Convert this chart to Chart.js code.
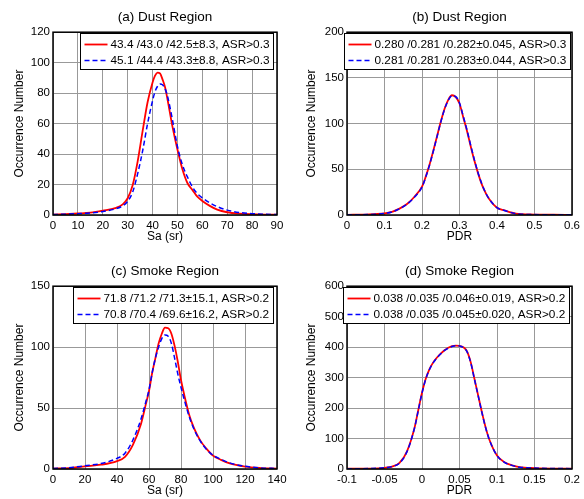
<!DOCTYPE html>
<html>
<head>
<meta charset="utf-8">
<title>Sa / PDR occurrence</title>
<script src="https://cdn.jsdelivr.net/npm/chart.js"></script>
<style>
  body { margin: 0; background: #fff; overflow: hidden; width: 584px; height: 499px; position: relative; }
  canvas { position: absolute; }
</style>
</head>
<body>
<canvas id="dustSa" width="292" height="250" style="left:0;top:0"></canvas>
<canvas id="dustPdr" width="292" height="250" style="left:292px;top:0"></canvas>
<canvas id="smokeSa" width="292" height="250" style="left:0;top:254px"></canvas>
<canvas id="smokePdr" width="292" height="250" style="left:292px;top:254px"></canvas>

<script>
// (a) Dust region, lidar ratio
const dustSaX    = [0, 5, 10, 15, 20, 25, 28, 30, 32, 34, 36, 38, 40, 41, 42, 43, 44, 45, 46, 48, 50, 52, 54, 56, 58, 60, 63, 66, 70, 75, 80, 85, 90];
const dustSaRed  = [0.3, 0.6, 1.0, 1.5, 2.8, 4.5, 7, 11, 19.5, 35, 55, 74, 87, 91.5, 93.5, 93, 89, 84, 76, 58, 43, 30, 21, 16.5, 12, 9.2, 6, 3.5, 1.8, 0.9, 0.5, 0.3, 0.2];
const dustSaBlue = [0.3, 0.5, 0.9, 1.4, 2.3, 4, 6, 9, 15, 27, 42, 60, 75, 81, 84.5, 86, 85.5, 83, 78, 62.5, 45, 33, 25, 18.5, 14, 11.3, 8, 5.5, 3.2, 1.6, 0.9, 0.5, 0.3];
const dustSaTicksX = [0, 10, 20, 30, 40, 50, 60, 70, 80, 90];
const dustSaTicksY = [0, 20, 40, 60, 80, 100, 120];

// (b) Dust region, depolarization ratio
const dustPdrX    = [0, 0.05, 0.1, 0.12, 0.14, 0.16, 0.18, 0.2, 0.21, 0.22, 0.23, 0.24, 0.25, 0.26, 0.27, 0.28, 0.29, 0.3, 0.31, 0.32, 0.33, 0.34, 0.35, 0.36, 0.37, 0.38, 0.4, 0.42, 0.45, 0.5, 0.55, 0.6];
const dustPdrRed  = [0.2, 0.5, 1.8, 3.5, 7, 12, 20, 31, 42, 55, 70, 86, 102, 116, 126, 131, 129, 122, 107, 92, 75, 59, 45, 33, 24, 17, 8, 5, 1.5, 0.5, 0.3, 0.2];
const dustPdrBlue = [0.2, 0.5, 1.7, 3.4, 6.8, 11.8, 19.6, 30.5, 41.5, 54.5, 69.5, 85.5, 101.5, 115.5, 125.5, 130.5, 129.5, 122.5, 108, 93, 76, 60, 45.5, 33.5, 24, 17, 8, 5, 1.5, 0.5, 0.3, 0.2];
const dustPdrTicksX = [0, 0.1, 0.2, 0.3, 0.4, 0.5, 0.6];
const dustPdrTicksY = [0, 50, 100, 150, 200];

// (c) Smoke region, lidar ratio
const smokeSaX    = [0, 10, 20, 30, 40, 45, 50, 55, 58, 60, 62, 64, 66, 68, 70, 72, 74, 76, 78, 80, 82, 85, 88, 92, 96, 100, 105, 110, 120, 130, 140];
const smokeSaRed  = [0.3, 0.8, 2.2, 3.5, 6.5, 10, 20, 37, 53, 64, 79, 91, 103, 111, 116, 115.5, 111, 101, 88, 73, 61, 45, 34, 23.5, 16.5, 11, 7.5, 4.8, 2, 0.8, 0.3];
const smokeSaBlue = [0.5, 1, 2.7, 4.5, 8.7, 13, 24, 41, 55, 65, 79, 91, 100, 107, 110, 109, 103, 91, 78, 67, 57, 43.5, 33, 23, 16, 11.3, 8, 5.2, 2.2, 0.9, 0.4];
const smokeSaTicksX = [0, 20, 40, 60, 80, 100, 120, 140];
const smokeSaTicksY = [0, 50, 100, 150];

// (d) Smoke region, depolarization ratio
const smokePdrX    = [-0.1, -0.07, -0.05, -0.04, -0.03, -0.02, -0.01, -0.005, 0, 0.005, 0.01, 0.015, 0.02, 0.025, 0.03, 0.04, 0.045, 0.05, 0.055, 0.06, 0.065, 0.07, 0.075, 0.08, 0.085, 0.09, 0.1, 0.11, 0.12, 0.13, 0.15, 0.2];
const smokePdrRed  = [1, 1.5, 4, 8, 20, 58, 135, 193, 250, 296, 328, 350, 366, 379, 390, 403, 405, 404, 400, 386, 350, 295, 240, 185, 135, 95, 44, 22, 12, 6, 3, 1];
const smokePdrBlue = [1, 1.5, 4, 8, 19, 57, 134, 192, 249, 295, 327, 349, 365, 378, 389, 402, 404.5, 404, 399, 385, 349, 294, 239, 184, 134, 95, 44, 22, 12, 6, 3, 1];
const smokePdrTicksX = [-0.1, -0.05, 0, 0.05, 0.1, 0.15, 0.2];
const smokePdrTicksY = [0, 100, 200, 300, 400, 500, 600];

const FONT = '"Liberation Sans", Arial, Helvetica, sans-serif';
Chart.defaults.font.family = FONT;
Chart.defaults.color = '#000';

// matlab-ish frame + boxed legend inside the axes
const framePlugin = {
  id: 'frame',
  afterDraw(chart) {
    const {ctx, chartArea: a} = chart;
    const inset = chart.options.plugins.frame.inset;
    ctx.save();
    ctx.strokeStyle = '#000';
    ctx.lineWidth = 1.5;
    ctx.strokeRect(a.left, a.top, a.right - a.left, a.bottom - a.top);

    ctx.lineWidth = 1;
    ctx.font = '11.8px ' + FONT;
    const sets = chart.data.datasets;
    const tw = Math.max(...sets.map(d => ctx.measureText(d.label).width));
    const w = Math.round(30 + tw + 4), h = 36;
    const x = Math.round(a.right - inset - w) + 0.5, y = Math.round(a.top) + 1.5;
    ctx.fillStyle = '#fff';
    ctx.fillRect(x, y, w, h);
    ctx.strokeRect(x, y, w, h);
    ctx.textBaseline = 'middle';
    sets.forEach((d, i) => {
      const ly = y + 11 + i * 16;
      ctx.strokeStyle = d.borderColor;
      ctx.lineWidth = d.borderWidth;
      ctx.setLineDash(d.borderDash || []);
      ctx.beginPath();
      ctx.moveTo(x + 4, ly);
      ctx.lineTo(x + 27, ly);
      ctx.stroke();
      ctx.setLineDash([]);
      ctx.fillStyle = '#000';
      ctx.fillText(d.label, x + 30, ly + 0.5);
    });
    ctx.restore();
  }
};

function fmt(v) {
  return String(Number(v.toFixed(3)));
}

function makeChart(id, cfg) {
  const pts = (xs, ys) => xs.map((x, i) => ({x: x, y: ys[i]}));
  return new Chart(document.getElementById(id), {
    type: 'line',
    data: {
      datasets: [
        {
          label: cfg.redLabel,
          data: pts(cfg.x, cfg.red),
          borderColor: '#ff0000',
          borderWidth: 1.8,
          pointRadius: 0,
          cubicInterpolationMode: 'monotone',
          order: 1
        },
        {
          label: cfg.blueLabel,
          data: pts(cfg.x, cfg.blue),
          borderColor: '#0000ff',
          borderWidth: 1.5,
          borderDash: [5, 3],
          pointRadius: 0,
          cubicInterpolationMode: 'monotone',
          order: 0
        }
      ]
    },
    options: {
      responsive: false,
      animation: false,
      devicePixelRatio: 1,
      layout: { padding: { left: 0, right: cfg.padRight, top: 0, bottom: 0 } },
      plugins: {
        legend: { display: false },
        tooltip: { enabled: false },
        title: {
          display: true,
          fullSize: false,
          text: cfg.title,
          font: { size: 13.5, weight: 'normal' },
          padding: { top: 9, bottom: 7 }
        },
        frame: { inset: cfg.inset }
      },
      scales: {
        x: {
          type: 'linear',
          min: cfg.ticksX[0],
          max: cfg.ticksX[cfg.ticksX.length - 1],
          afterBuildTicks: s => { s.ticks = cfg.ticksX.map(v => ({value: v})); },
          afterFit: s => { s.height = 35; },
          grid: { color: '#999999', drawTicks: false },
          border: { display: false },
          ticks: { font: { size: 11.5 }, padding: 4, maxRotation: 0, autoSkip: false, callback: fmt },
          title: { display: true, text: cfg.xTitle, font: { size: 12 }, padding: { top: 0, bottom: 6 } }
        },
        y: {
          min: cfg.ticksY[0],
          max: cfg.ticksY[cfg.ticksY.length - 1],
          afterBuildTicks: s => { s.ticks = cfg.ticksY.map(v => ({value: v})); },
          afterFit: s => { s.width = cfg.yWidth; },
          grid: { color: '#999999', drawTicks: false },
          border: { display: false },
          ticks: { font: { size: 11.5 }, padding: 3, autoSkip: false, callback: fmt },
          title: { display: true, text: 'Occurrence Number', font: { size: 12 }, padding: { top: 12, bottom: 0 } }
        }
      }
    },
    plugins: [framePlugin]
  });
}

makeChart('dustSa', {
  title: '(a) Dust Region', xTitle: 'Sa (sr)',
  x: dustSaX, red: dustSaRed, blue: dustSaBlue,
  ticksX: dustSaTicksX, ticksY: dustSaTicksY,
  redLabel: '43.4 /43.0 /42.5\u00b18.3, ASR>0.3',
  blueLabel: '45.1 /44.4 /43.3\u00b18.8, ASR>0.3',
  yWidth: 53, padRight: 15, inset: 4
});
makeChart('dustPdr', {
  title: '(b) Dust Region', xTitle: 'PDR',
  x: dustPdrX, red: dustPdrRed, blue: dustPdrBlue,
  ticksX: dustPdrTicksX, ticksY: dustPdrTicksY,
  redLabel: '0.280 /0.281 /0.282\u00b10.045, ASR>0.3',
  blueLabel: '0.281 /0.281 /0.283\u00b10.044, ASR>0.3',
  yWidth: 55, padRight: 12, inset: 2
});
makeChart('smokeSa', {
  title: '(c) Smoke Region', xTitle: 'Sa (sr)',
  x: smokeSaX, red: smokeSaRed, blue: smokeSaBlue,
  ticksX: smokeSaTicksX, ticksY: smokeSaTicksY,
  redLabel: '71.8 /71.2 /71.3\u00b115.1, ASR>0.2',
  blueLabel: '70.8 /70.4 /69.6\u00b116.2, ASR>0.2',
  yWidth: 53, padRight: 15, inset: 4
});
makeChart('smokePdr', {
  title: '(d) Smoke Region', xTitle: 'PDR',
  x: smokePdrX, red: smokePdrRed, blue: smokePdrBlue,
  ticksX: smokePdrTicksX, ticksY: smokePdrTicksY,
  redLabel: '0.038 /0.035 /0.046\u00b10.019, ASR>0.2',
  blueLabel: '0.038 /0.035 /0.045\u00b10.020, ASR>0.2',
  yWidth: 55, padRight: 12, inset: 3
});
</script>
</body>
</html>
